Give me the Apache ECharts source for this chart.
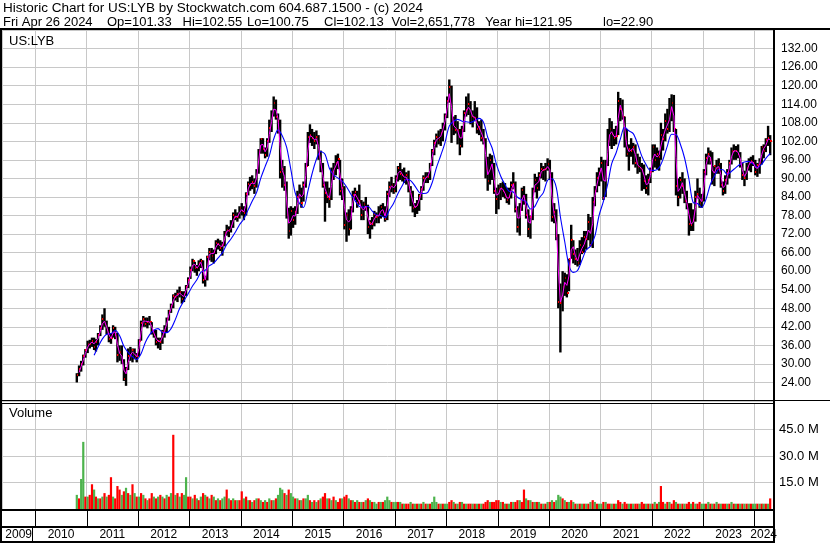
<!DOCTYPE html>
<html><head><meta charset="utf-8">
<script src="https://cdn.jsdelivr.net/npm/echarts@6/dist/echarts.min.js"></script>
<style>html,body{margin:0;padding:0;background:#fff}#c{width:830px;height:543px}</style>
</head><body><div id="c"></div>
<script>
// ---- data (half-month samples from 2nd half Oct 2010 to 2nd half Apr 2024) ----
const priceHigh = [
27,29.5,31,33,34.8,
37.5,37.8,38.5,38.5,38,40,42.5,46,48,44,42,40,42.5,42,40,36,36,31.5,29,35,35.5,35,35,33.5,
38,44,45.5,45,45,45.5,43.5,41,41,38.5,38.5,41,42.5,45,47.5,49.5,52.5,53,54,55,53.5,53.5,55.5,58,
61.5,64,63,62,63.5,64,63.5,58.5,65,67.5,67.5,67,70,70.5,70,69.5,73,75,74.5,76.5,79,80,79,81,
82,81,85.5,89,90.5,91,90,93,99.5,103,103,100,103,109,112,116.5,115.5,111,109,96,94,89,80.5,81,
80.5,81,86,88,87,89,95,105,107.5,106,105,105.5,104,99,95,89,89,87,93.5,95,97.5,98,96,90,
87.5,79,80,81,86,87,86,88,83,82.5,84,81.5,76.5,77.5,79.5,79,81,81.5,82,81,86,89,90.5,88.5,
91,94,95,93,93.5,92,92.5,87.5,86,82,83,85,87.5,91,92,92,95,99.5,102.5,104.5,105.5,106,108,111,
116.5,122,120,110,110.5,108.5,106,107,112,116.5,117.5,115,112,115,113,108.5,109,106,103,97,98,97.5,95,87,
88,88.5,89,88.5,87,87,89,92,89,81,82,87,87.5,85,80,78,87,91.5,90.5,92,95,94,95,96.5,
96,92,82,80,72,56,60,59.5,59,64,75,70,67,67.5,70,71,73,73,78.5,77.5,84,87.5,92,93.5,
97,96,96,106,109.5,108.5,106,107,118,116,115.5,110,106,101,103,101.5,101,98,97,95,94.5,91,91.5,93.5,
101,101,100,99,108,106,111,112.5,116,117.2,117,106,90,90.5,92,90,86,82,82,80,86,90,87,85,
93,98,100,99,98.5,94,96,96.5,95,89,91,93,96,100,101,100.5,101,98.5,95,92.5,95,96.5,97,97.5,
96,95,96.5,100.5,101,103,107,104];
const priceLow = [
24,26,27.5,29.5,32,
33.5,35,35.5,34.5,34,36,39,41,42,39.5,37,36.5,38.5,38,30.5,31,30,24.5,22.9,28,31,30.5,31.5,30.5,
32.5,37.5,42,42,41.5,42.5,39.5,38.5,36,35,34.5,36.5,38.5,40,44,46.5,48,50.5,50,51.5,49.5,50,52,54.5,
57.5,60,59.5,58.5,60,61,56,55,57,63.5,63,62.5,65.5,67,66.5,65,68,71.5,71,72.5,74,76.5,76,77,
78,76.5,78,84.5,86,86.5,85,87,91.5,98,98,96.5,97,101.5,105,110,109,104.5,90,87,86,77,70.5,71.5,
74,75,78.5,83.5,80.5,82.5,87,94,101.5,100.5,99.5,101,96,92,87,76,82,80.5,83,89.5,91,93,84.5,83,
73.5,69.5,71.5,73.5,79,83,80.5,81.5,76.5,76.5,79.5,72,70.5,73.5,74.5,75.5,75.5,77,77.5,76,76.5,84,85.5,85,
85.5,89,89.5,89,88.5,88,85.5,81,79,77.5,78.5,79.5,83,86,88.5,88.5,89.5,94,97.5,100,101,100.5,102,105.5,
109.5,114.5,101.5,104,104.5,101,97.5,100,105,110,110.5,107.5,106.5,108.5,104.5,104,102,101,90,86,88,89.5,85,78.5,
80,83,84,83.5,82,81.5,83.5,86.5,79,72.5,71.5,79.5,81.5,77,71,70.5,76.5,85.5,83.5,86,90,89.5,89,92.5,
89.5,76,75.5,70,48,33.7,47,52,51.5,53.5,64,62.5,62,61.5,62,65.5,66,67,70,68,67.5,81,85.5,87.5,
89,83,84,94,100.5,99.5,100.5,101,104,108.5,109,100,97,92.5,97,94.5,93.5,91.5,92,86,86.5,85,84.5,88.5,
92,93.5,93,92.5,96,99,102,104.5,105,108.5,105,84.5,81,83.5,85,82,80,71.5,73,73,76,83.5,80.5,80.5,
82.5,91,94.5,94.5,88,87.5,91.5,91.5,87,84.5,85,88,90,94.5,96,96,96.5,93.5,89.5,87.5,89.5,92.5,92,94,
91,90.5,91.5,94.5,96.5,98.5,100.5,97.5];
const priceClose = [
26.5,28.5,30,32.5,34.4,
36.5,36.5,37.5,35.5,37,39.5,41.5,44.5,43,41,38,38.5,41.5,39.4,33,34,31,25,28.5,32.5,33,34.5,32,32.5,
37.5,43.3,44.5,43,43.5,43.7,40.5,39.5,37,37.5,37,40.3,41,44.5,47,48.8,52,51.7,52.5,53.4,51,52.5,55,57.1,
60.5,63.3,61,60.9,62.5,63.3,57,57.3,64.5,66.3,65,66.3,69,68.7,67.5,68.6,72.5,73.2,73,74.6,78,77.5,77.5,80.3,
79.5,78.7,85,88.2,88,88.9,87.5,92.4,99,102.6,99.5,97.7,102,106.3,110.5,114.3,110,108.6,92,93.2,88,78,73,79.4,
76.5,79.1,84,86,82,87.8,94,103.5,104,103,102,103.5,97,93.8,88,85.3,84,83.4,92,92.9,95,96.2,86,86.9,
75,78.2,73.5,80,84.5,85.6,82,82.7,78,81.6,80.5,74.4,75.5,75.3,78.5,77.6,78,80.7,79,77,85,87.2,88,85.8,
90,93.3,91.5,91.2,89.5,91.2,86,84.8,80.5,80.6,81.5,84.4,86.5,90,90.5,90.6,94.5,99,101.5,103.5,102.5,104.7,106.5,110.3,
115,119.7,106,108.2,105.5,105.7,100.5,105.7,111,112,114,109.9,110,109.5,106,106.6,103,102.5,93,89.3,96,93.3,86,83.2,
86.5,87,86,84.3,83,84.1,88,88.3,80,74.3,80,86.1,83,78.3,73.5,77.4,86,89.5,87,91.2,93,92.6,93,94.5,
91,77.5,79,71.5,50,49.6,55,57.8,53,63.8,70,65.7,64,62.5,68.5,66.1,71,70.5,76,68.4,82.5,85.9,90,91.7,
95,83.7,94.5,102.2,106,104.2,103,103.7,115,112.3,110,102.9,98,99.4,99,100.3,95,93.8,93.5,92.8,89,87,89.5,92.2,
100,95.8,98,96.9,104,102.8,108.5,106,112,114.3,106,87.5,84,89.6,87.5,82.8,81.5,75.3,75,76.5,84,85,82,83,
92,96.7,98,95.8,89.5,93.9,93,94.6,88,85.9,89.5,91.8,95,98.9,99,98.8,98,94.7,91,90.2,93.5,95.1,95.5,95.1,
92,94.3,95,100.3,99,102.3,103,102.1];
// magenta short moving average (same half-month samples)
const maShort = [
null,27.2,29.2,31.2,33.4,
35.4,36.5,37,36.5,36.2,38.2,40.5,43,43.8,42,39.5,38.2,40,40.4,36.2,33.5,32.5,28,26.8,30.5,32.8,33.8,33.2,32.3,
35,40.4,43.9,43.8,43.3,43.6,42.1,40,38.3,37.3,37.3,38.7,40.7,42.8,45.8,47.9,50.4,51.9,52.1,53,52.2,51.8,53.8,56,
58.8,61.9,62.2,61,61.7,62.9,60.2,57.2,60.9,65.4,65.7,65.7,67.7,68.9,68.1,68,70.5,72.9,73.1,73.8,76.3,77.8,77.5,78.9,
79.9,79.1,81.9,86.6,88.1,88.5,88.2,90,95.7,100.8,101,98.6,99.9,104.2,108.4,112.4,112.2,109.3,100.3,92.6,90.6,83,75.5,76.2,
78,77.8,81.6,85,84,84.9,90.9,98.8,103.8,103.5,102.5,102.8,100.3,95.4,90.9,86.7,84.7,83.7,87.7,92.5,94,95.6,91.1,86.5,
81,76.6,75.9,76.8,82.3,85,83.8,82.4,80.4,79.8,81,77.5,75,75.4,76.9,78,77.8,79.4,79.9,77.8,81,86.1,87.6,86.9,
87.9,91.6,92.4,91.3,90.4,90.4,88.6,85.4,82.7,80.6,81.1,83,85.5,88.3,90.2,90.5,92.6,96.8,100.3,102.5,103,103.6,105.6,108.4,
112.7,117.4,112.9,107.1,106.9,105.6,103.1,103.1,108.4,111.5,113,112,110,109.8,107.8,106.3,104.8,102.8,97.8,91.2,92.7,94.7,89.7,84.6,
84.9,86.8,86.5,85.2,83.7,83.6,86,88.2,84.2,77.2,77.2,83,84.6,80.7,75.9,75.5,81.7,87.8,88.3,89.1,92.1,92.8,92.8,93.8,
92.8,84.2,78.3,75.3,60.7,50,52.3,56.4,55.4,58.4,66.9,67.9,64.9,63.3,65.5,67.3,68.6,70.8,73.3,72.2,75.5,84.2,88,90.9,
93.4,89.4,89.1,98.4,104.1,105.1,103.6,103.4,109.4,113.7,111.2,106.5,100.5,98.7,99.2,99.7,97.7,94.4,93.7,93.2,90.9,88,88.3,90.9,
96.1,97.9,96.9,97.5,100.5,103.4,105.7,107.3,109,113.2,110.2,96.8,85.8,86.8,88.6,85.2,82.2,78.4,75.2,75.8,80.3,84.5,83.5,82.5,
87.5,94.4,97.4,96.9,92.7,91.7,93.5,93.8,91.3,87,87.7,90.7,93.4,97,98.9,98.9,98.4,96.4,92.9,90.6,91.9,94.3,95.3,95.3,
93.6,93.2,94.7,97.7,99.7,100.7,102.7,102.6];
// blue long moving average (monthly, Feb 2011 .. Apr 2024)
const maLong = [
32.8,35.5,38.1,39.6,39.8,40.8,39.2,35.7,33.7,32.3,31.4,
33.3,37.0,39.4,40.9,41.4,40.2,40.1,41.4,44.4,47.9,50.4,52.7,
55.2,57.2,59.6,60.3,61.8,62.6,64.2,65.9,68.6,70.4,72.6,75.0,
76.9,79.9,82.6,85.4,90.0,93.8,97.3,102.7,105.7,103.8,100.1,92.9,
85.3,81.9,80.6,85.8,91.5,96.2,98.7,97.8,93.3,91.1,90.1,89.1,
87.3,84.9,82.9,80.9,80.7,81.0,79.5,78.2,78.0,77.3,79.8,82.0,
85.1,87.7,89.7,89.3,87.6,85.5,85.1,85.5,88.6,93.4,97.4,101.5,
107.0,108.5,109.1,108.5,108.3,108.1,108.7,109.4,108.2,103.3,99.9,94.8,
90.8,88.0,85.9,85.6,83.9,83.1,82.5,80.1,80.9,83.6,85.4,89.4,
89.9,87.0,77.6,69.5,61.9,59.6,60.2,63.5,66.9,68.1,71.3,78.0,
82.6,88.2,94.8,98.2,102.7,106.6,105.4,104.5,101.2,97.2,94.4,92.6,
92.6,93.5,96.2,100.5,104.3,104.2,101.2,96.6,89.8,82.2,81.9,80.6,
83.3,88.1,90.7,92.9,92.8,91.3,92.3,93.5,94.6,95.3,95.5,94.7,
93.5,94.6,96.5,98.1];
// volume, millions of shares (half-month samples)
const volumeM = [
8,6,17,38,7,
7,8,14,11,7,6,6,7,9,7,8,18,7,6,13,11,8,10,12,9,8,14,9,7,
7,9,8,6,5,6,9,7,6,7,8,7,6,8,7,9,42,8,9,7,9,8,18,7,
7,6,8,6,5,7,9,8,7,6,8,7,5,6,5,6,7,11,6,5,6,5,5,5,
10,6,7,5,5,4,5,6,6,5,4,5,4,6,5,5,6,8,12,11,9,8,11,9,
7,6,6,5,5,6,6,8,5,4,5,4,5,6,7,9,6,6,5,7,5,4,6,6,
7,8,6,5,5,4,5,4,4,4,5,6,5,4,4,3,4,4,4,5,7,5,4,4,
4,4,4,3,3,3,3,4,3,3,3,3,3,4,3,3,3,4,7,4,3,3,3,3,
3,4,5,4,3,3,4,4,3,3,3,3,3,3,3,3,3,3,4,5,4,4,4,5,
5,4,4,3,3,3,4,4,4,5,5,4,11,6,5,5,4,4,4,4,3,3,3,4,
4,5,4,5,8,7,6,5,4,4,5,4,3,3,3,3,3,3,3,4,5,4,3,3,
3,4,4,3,3,3,3,3,5,4,3,4,3,3,3,3,3,3,3,4,3,3,3,3,
3,4,3,4,13,4,3,4,4,3,5,4,3,3,3,3,3,4,3,4,3,3,4,3,
3,3,4,3,3,3,4,3,3,3,3,3,3,4,3,3,3,3,3,3,3,3,3,3,
3,3,3,3,3,3,3,6];
// volume bar colour: g = up (green), r = down (red)
const volumeColour = [
'grggr',
'grrgrgrgrgrrgrrrgrgrgrgr',
'grgrgrrgrgrgrgrgrgrgrggr',
'rgrgrgrgrgrgrgrggrgrgrgr',
'rgrgrgrgrgrgrgrgrgggrgrg',
'grgrgrggrgrgrgrrgrgrgrrg',
'rrgrgrgrgrgrgrggrgrgggrg',
'grgrgrrgrgrgrgrgrgggrgrg',
'grrgrgrgrgrrgrgrgrrrgrrr',
'rgrgrgrgrrgrrgrgrgrgrgrg',
'rgrgggrgrgrgrgrgrgrgrgrg',
'grgrrgrgrrgrrgrgrrgrrgrg',
'rgrgrrgrgrrgrgrgrrgrgrrg',
'grgrgrgrgrrgrgrgrgrgrgrg',
'grgrgrgr'].join('');
const yearLabels = ['2009','2010','2011','2012','2013','2014','2015','2016','2017','2018','2019','2020','2021','2022','2023','2024'];
const priceTicksStep = 6;
const volTicksStep = 15;
const titleLine1 = 'Historic Chart for US:LYB by Stockwatch.com 604.687.1500 - (c) 2024';
const titleLine2 = ['Fri Apr 26 2024','Op=101.33','Hi=102.55','Lo=100.75','Cl=102.13','Vol=2,651,778','Year hi=121.95','lo=22.90'];

// ---- build ----
function sampleDate(i){ const k=i+1; return new Date(2010, 9+Math.floor(k/2), (k%2)?23:8).getTime(); }
function longDate(j){ return new Date(2011, 1+j, 23).getTime(); }
const xMin = new Date(2009,4,9).getTime(), xMax = new Date(2024,4,13).getTime();

const priceData = priceHigh.map((h,i)=>[sampleDate(i), h, priceLow[i], priceClose[i]]);
const shortData = maShort.map((v,i)=>[sampleDate(i), v]);
const longData = maLong.map((v,j)=>[longDate(j), v]);
const volData = volumeM.map((v,i)=>[sampleDate(i), v, volumeColour[i]==='g' ? 1 : 0]);
const yearData = yearLabels.map(y=>[new Date(+y,0,1).getTime(), 0.5]);

const FONT = '"Liberation Sans", Arial, sans-serif';
const GRID_R = 57;
const chart = echarts.init(document.getElementById('c'));
const xBase = {type:'time', min:xMin, max:xMax, splitNumber:15,
  axisLine:{show:false}, axisTick:{show:false}, axisLabel:{show:false},
  splitLine:{show:true, lineStyle:{color:'#c8c8c8', width:1}}};
const line2X = [3,107,182.5,247,324,391.5,485,603];

const option = {
  animation:false,
  backgroundColor:'#fff',
  grid:[
    {left:2, right:GRID_R, top:30, height:371},
    {left:2, right:GRID_R, top:403, height:106},
    {left:2, right:GRID_R, top:510, height:32}
  ],
  xAxis:[
    Object.assign({gridIndex:0}, xBase),
    Object.assign({gridIndex:1}, xBase),
    {gridIndex:2, type:'time', min:xMin, max:xMax, show:false}
  ],
  yAxis:[
    {gridIndex:0, type:'value', position:'right', min:18, max:138, interval:priceTicksStep,
     axisLine:{show:false}, axisTick:{show:false},
     splitLine:{show:true, lineStyle:{color:'#c8c8c8', width:1}},
     axisLabel:{show:true, margin:8, color:'#000', fontFamily:FONT, fontSize:12,
       showMinLabel:false, showMaxLabel:false, formatter:v=>v.toFixed(2)}},
    {gridIndex:1, type:'value', position:'right', min:0, max:60, interval:volTicksStep,
     axisLine:{show:false}, axisTick:{show:false},
     splitLine:{show:true, lineStyle:{color:'#c8c8c8', width:1}},
     axisLabel:{show:true, margin:6, color:'#000', fontFamily:FONT, fontSize:13,
       showMinLabel:false, showMaxLabel:false, formatter:v=>v.toFixed(1)+' M'}},
    {gridIndex:2, type:'value', min:0, max:1, show:false}
  ],
  series:[
    {type:'custom', xAxisIndex:0, yAxisIndex:0, clip:true, data:priceData,
     encode:{x:0, y:[1,2]},
     renderItem:(params, api)=>{
       const t=api.value(0);
       const a=api.coord([t, api.value(1)]), b=api.coord([t, api.value(2)]), c=api.coord([t, api.value(3)]);
       return {type:'group', children:[
         {type:'rect', shape:{x:a[0]-1.2, y:a[1], width:2.4, height:Math.max(1,b[1]-a[1])}, style:{fill:'#000'}},
         {type:'rect', shape:{x:Math.round(c[0]), y:Math.round(c[1])-1, width:2, height:2}, style:{fill:'#ff0000'}}
       ]};
     }, z:2},
    {type:'line', xAxisIndex:0, yAxisIndex:0, data:longData, showSymbol:false, smooth:0.3,
     lineStyle:{color:'#0000ff', width:1.1}, z:3},
    {type:'line', xAxisIndex:0, yAxisIndex:0, data:shortData, showSymbol:false, connectNulls:false,
     lineStyle:{color:'#ff00ff', width:1}, z:4},
    {type:'custom', xAxisIndex:1, yAxisIndex:1, clip:true, data:volData,
     encode:{x:0, y:1},
     renderItem:(params, api)=>{
       const t=api.value(0);
       const a=api.coord([t, api.value(1)]), b=api.coord([t, 0]);
       return {type:'rect', shape:{x:a[0]-1.1, y:a[1], width:2.2, height:b[1]-a[1]},
         style:{fill: api.value(2) ? '#4cb34c' : '#ff0000'}};
     }, z:2},
    {type:'custom', xAxisIndex:2, yAxisIndex:2, clip:false, data:yearData,
     encode:{x:0, y:1},
     renderItem:(params, api)=>{
       const i=params.dataIndex, cs=params.coordSys;
       const yr=+yearLabels[i];
       const tStart=new Date(yr,0,1).getTime(), tEnd=new Date(yr+1,0,1).getTime();
       const x0=api.coord([Math.max(tStart,xMin),0])[0], x1=api.coord([Math.min(tEnd,xMax),0])[0];
       const children=[];
       if (tStart>=xMin) {
         const xs=Math.round(api.coord([tStart,0])[0]);
         children.push({type:'rect', shape:{x:xs, y:cs.y, width:1, height:16}, style:{fill:'#000'}});
       }
       children.push({type:'text', x:(x0+x1)/2, y:cs.y+24.5,
         style:{text:yearLabels[i], fill:'#000', font:'12px '+FONT, align:'center', verticalAlign:'middle'}});
       return {type:'group', children};
     }, z:5}
  ],
  graphic:[
    {type:'text', x:3, y:8, style:{text:titleLine1, fill:'#000', font:'13.5px '+FONT, verticalAlign:'middle'}}
  ].concat(titleLine2.map((s,k)=>({type:'text', x:line2X[k], y:22.5,
     style:{text:s, fill:'#000', font:'13px '+FONT, verticalAlign:'middle'}}))).concat([
    {type:'text', x:9, y:41, z:10, style:{text:'US:LYB', fill:'#000', font:'13px '+FONT, verticalAlign:'middle'}},
    {type:'text', x:9, y:413, z:10, style:{text:'Volume', fill:'#000', font:'13px '+FONT, verticalAlign:'middle'}},
    // frame
    {type:'rect', z:20, shape:{x:0, y:28, width:830, height:2}, style:{fill:'#000'}},
    {type:'rect', z:20, shape:{x:0, y:28, width:2, height:515}, style:{fill:'#000'}},
    {type:'rect', z:20, shape:{x:773, y:28, width:2, height:515}, style:{fill:'#000'}},
    {type:'rect', z:20, shape:{x:0, y:400, width:830, height:1}, style:{fill:'#000'}},
    {type:'rect', z:20, shape:{x:0, y:403, width:773, height:1}, style:{fill:'#000'}},
    {type:'rect', z:20, shape:{x:0, y:509, width:773, height:2}, style:{fill:'#000'}},
    {type:'rect', z:20, shape:{x:0, y:526, width:773, height:2}, style:{fill:'#000'}},
    {type:'rect', z:20, shape:{x:0, y:541, width:775, height:2}, style:{fill:'#000'}},
    {type:'rect', z:20, shape:{x:32, y:527, width:1, height:14}, style:{fill:'#000'}}
  ])
};
chart.setOption(option);
</script>
</body></html>
